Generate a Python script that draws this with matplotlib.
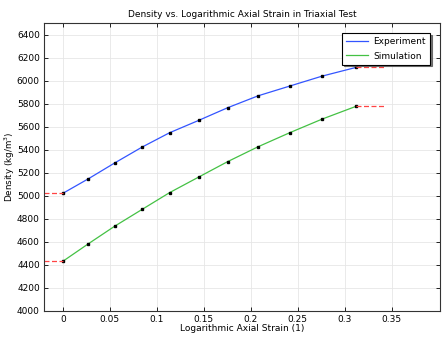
import matplotlib
matplotlib.use('Agg')
import matplotlib.pyplot as plt

# data
strain = [0, 0.0273, 0.0550, 0.0844, 0.1135, 0.1444, 0.1752, 0.2078, 0.2412, 0.2759, 0.3117]
density_exp = [5021, 5148, 5284, 5423, 5547, 5654, 5764, 5868, 5952, 6039, 6114]
density_sim = [4431, 4584, 4735, 4882, 5027, 5162, 5296, 5426, 5547, 5666, 5776]
x_left = [-0.02, 0]
x_right = [0.3117, 0.343]

fig = plt.figure(figsize=(4.47, 3.37), dpi=100)
ax = fig.add_axes([0.0984, 0.0772, 0.8856, 0.8546])

ax.plot(strain, density_exp, color='#3355ff', lw=0.9, label='Experiment')
ax.plot(strain, density_sim, color='#44c144', lw=0.9, label='Simulation')
ax.plot(strain, density_exp, 's', color='black', ms=1.8, ls='none')
ax.plot(strain, density_sim, 's', color='black', ms=1.8, ls='none')

# constant extensions
for y in (density_exp[0], density_sim[0]):
    ax.plot(x_left, [y, y], color='#ff4444', lw=0.9, ls=(0, (4, 2)))
for y in (density_exp[-1], density_sim[-1]):
    ax.plot(x_right, [y, y], color='#ff4444', lw=0.9, ls=(0, (4, 2)))

ax.set_xlim(-0.02, 0.401)
ax.set_ylim(4000, 6500)
ax.set_xticks([0, 0.05, 0.1, 0.15, 0.2, 0.25, 0.3, 0.35])
ax.set_xticklabels(['0', '0.05', '0.1', '0.15', '0.2', '0.25', '0.3', '0.35'])
ax.set_yticks(range(4000, 6401, 200))
ax.tick_params(direction='in', top=True, right=True, labelsize=6.5, length=3, width=0.6, pad=3)
ax.grid(True, color='#e6e6e6', lw=0.6)
ax.set_axisbelow(True)
for s in ax.spines.values():
    s.set_linewidth(0.8)
    s.set_color('#333333')

ax.set_title('Density vs. Logarithmic Axial Strain in Triaxial Test', fontsize=6.5, pad=4)
ax.set_xlabel('Logarithmic Axial Strain (1)', fontsize=6.5, labelpad=0)
ax.set_ylabel('Density (kg/m$^3$)', fontsize=6.3)
ax.yaxis.set_label_coords(-0.068, 0.5)

leg = ax.legend(loc='upper right', fontsize=6.5, fancybox=False,
                shadow={'ox': 1.2, 'oy': -1.2, 'color': '#555555', 'alpha': 0.8},
                framealpha=1, edgecolor='black', borderpad=0.45, handlelength=2.4,
                handletextpad=0.6, labelspacing=0.6, borderaxespad=0,
                bbox_to_anchor=(0.975, 0.965))
leg.get_frame().set_linewidth(0.8)

fig.savefig('out.png', dpi=100)
